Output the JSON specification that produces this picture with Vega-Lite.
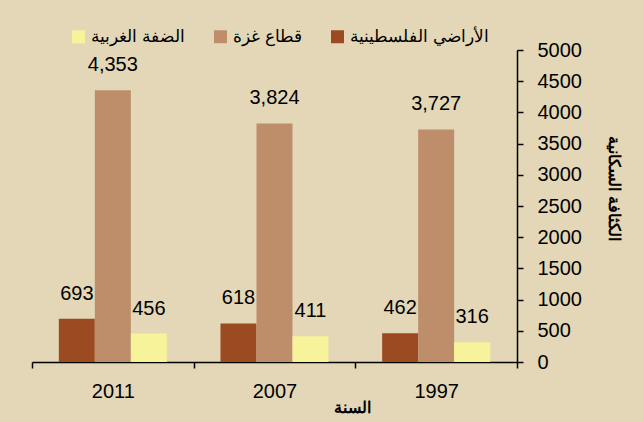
{
  "$schema": "https://vega.github.io/schema/vega-lite/v6.json",
  "width": 485,
  "height": 312,
  "autosize": {"type": "none"},
  "padding": {"left": 32, "top": 50, "right": 126, "bottom": 60},
  "background": "#E3D7B7",
  "config": {
    "font": "Liberation Sans",
    "view": {"stroke": null},
    "axis": {"grid": false, "domainColor": "#000000", "tickColor": "#000000", "labelColor": "#000000", "titleColor": "#000000", "domainWidth": 1.5, "tickWidth": 1.5, "labelFont": "Liberation Sans"}
  },
  "data": {
    "values": [
      {"year": "2011", "region": "الأراضي الفلسطينية", "density": 693},
      {"year": "2011", "region": "قطاع غزة", "density": 4353},
      {"year": "2011", "region": "الضفة الغربية", "density": 456},
      {"year": "2007", "region": "الأراضي الفلسطينية", "density": 618},
      {"year": "2007", "region": "قطاع غزة", "density": 3824},
      {"year": "2007", "region": "الضفة الغربية", "density": 411},
      {"year": "1997", "region": "الأراضي الفلسطينية", "density": 462},
      {"year": "1997", "region": "قطاع غزة", "density": 3727},
      {"year": "1997", "region": "الضفة الغربية", "density": 316}
    ]
  },
  "encoding": {
    "x": {
      "field": "year",
      "type": "nominal",
      "sort": ["2011", "2007", "1997"],
      "scale": {"paddingInner": 0, "paddingOuter": 0},
      "axis": {
        "orient": "bottom",
        "tickBand": "extent",
        "tickSize": 6,
        "labelAngle": 0,
        "labelFontSize": 20,
        "labelPadding": 13,
        "title": "السنة",
        "titleFontSize": 16,
        "titleFontWeight": "bold",
        "titleX": 320,
        "titleY": 45,
        "titleAlign": "center",
        "titleBaseline": "middle"
      }
    },
    "xOffset": {
      "field": "region",
      "type": "nominal",
      "sort": ["الأراضي الفلسطينية", "قطاع غزة", "الضفة الغربية"],
      "scale": {"paddingInner": 0, "paddingOuter": 0.745}
    },
    "y": {
      "field": "density",
      "type": "quantitative",
      "scale": {"domain": [0, 5000]},
      "axis": {
        "orient": "right",
        "values": [0, 500, 1000, 1500, 2000, 2500, 3000, 3500, 4000, 4500, 5000],
        "format": "d",
        "tickSize": 6,
        "labelPadding": 14,
        "labelFontSize": 20,
        "title": "الكثافة السكانية",
        "titleFontSize": 16,
        "titleFontWeight": "bold",
        "titleAngle": 90,
        "titleX": 96,
        "titleY": 138,
        "titleAlign": "center",
        "titleBaseline": "middle"
      }
    }
  },
  "layer": [
    {
      "mark": {"type": "bar"},
      "encoding": {
        "color": {
          "field": "region",
          "type": "nominal",
          "scale": {
            "domain": ["الضفة الغربية", "قطاع غزة", "الأراضي الفلسطينية"],
            "range": ["#F7F39A", "#BE8E6B", "#9B4A22"]
          },
          "legend": {
            "orient": "none",
            "legendX": 38,
            "legendY": -22,
            "direction": "horizontal",
            "title": null,
            "symbolType": "square",
            "symbolSize": 169,
            "symbolStrokeWidth": 0,
            "labelFontSize": 17,
            "labelColor": "#000000",
            "labelOffset": 4,
            "columnPadding": 27
          }
        }
      }
    },
    {
      "mark": {"type": "text", "baseline": "middle", "dy": -25, "fontSize": 20, "color": "#000000"},
      "encoding": {
        "text": {"field": "density", "type": "quantitative", "format": ","}
      }
    }
  ]
}
